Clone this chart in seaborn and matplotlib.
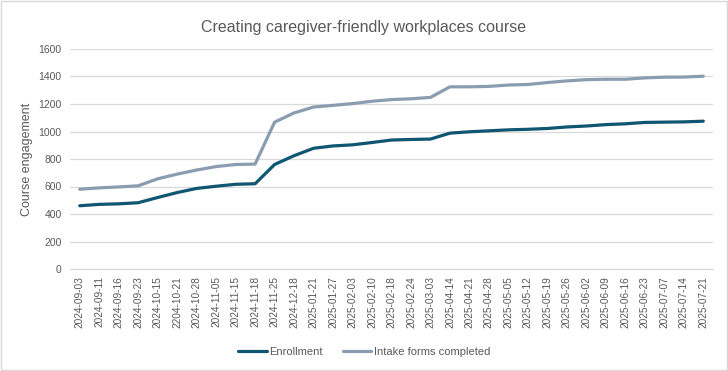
import matplotlib
matplotlib.use("Agg")
import matplotlib.pyplot as plt
import seaborn as sns
import pandas as pd

# tick labels, as printed on the chart (including the 2204 typo)
dates = [
    "2024-09-03", "2024-09-11", "2024-09-16", "2024-09-23", "2024-10-15",
    "2204-10-21", "2024-10-28", "2024-11-05", "2024-11-15", "2024-11-18",
    "2024-11-25", "2024-12-18", "2025-01-21", "2025-01-27", "2025-02-03",
    "2025-02-10", "2025-02-18", "2025-02-24", "2025-03-03", "2025-04-14",
    "2025-04-21", "2025-04-28", "2025-05-05", "2025-05-12", "2025-05-19",
    "2025-05-26", "2025-06-02", "2025-06-09", "2025-06-16", "2025-06-23",
    "2025-07-07", "2025-07-14", "2025-07-21",
]

enrollment = [
    460, 470, 474, 482, 520, 556, 586, 602, 616, 620,
    760, 824, 878, 895, 903, 920, 938, 942, 945, 988,
    998, 1005, 1012, 1016, 1022, 1033, 1040, 1050, 1056, 1066,
    1068, 1070, 1075,
]

intake = [
    580, 590, 597, 605, 656, 690, 720, 745, 760, 763,
    1068, 1135, 1178, 1190, 1203, 1220, 1232, 1238, 1248, 1325,
    1325, 1328, 1338, 1342, 1356, 1368, 1377, 1380, 1380, 1390,
    1395, 1396, 1402,
]

series_names = ["Enrollment", "Intake forms completed"]
colors = ["#0F5673", "#8A9DB0"]

n = len(dates)
df = pd.DataFrame({
    "pos": list(range(n)) * 2,
    "value": enrollment + intake,
    "series": [series_names[0]] * n + [series_names[1]] * n,
})

sns.set_style("white")
plt.rcParams["font.family"] = ["Liberation Sans", "DejaVu Sans"]
text_grey = "#595959"

fig = plt.figure(figsize=(7.28, 3.71), dpi=100)
ax = fig.add_axes([70 / 728, 1 - 269 / 371, 643 / 728, 220 / 371])

sns.lineplot(data=df, x="pos", y="value", hue="series", palette=colors,
             linewidth=2.3, ax=ax, legend=True)

ax.set_xlim(-0.5, n - 0.5)
ax.set_ylim(0, 1600)
ax.set_yticks(range(0, 1601, 200))
ax.set_xticks(range(n))
ax.set_xticklabels(dates, rotation=90)
ax.tick_params(axis="x", labelsize=7.3, colors=text_grey, length=0, pad=5)
ax.tick_params(axis="y", labelsize=7.5, colors=text_grey, length=0, pad=6)
ax.yaxis.grid(True, color="#D9D9D9", linewidth=0.9)
ax.set_axisbelow(True)
for side in ["top", "right", "left"]:
    ax.spines[side].set_visible(False)
ax.spines["bottom"].set_color("#D9D9D9")

ax.set_xlabel("")
ax.set_ylabel("Course engagement", fontsize=9, color=text_grey, labelpad=4)

fig.suptitle("Creating caregiver-friendly workplaces course", y=0.945,
             fontsize=11.5, color=text_grey)

handles, labels = ax.get_legend_handles_labels()
ax.get_legend().remove()
fig.legend(handles, labels, loc="center", bbox_to_anchor=(0.5, 1 - 352 / 371),
           ncol=2, frameon=False, fontsize=8, labelcolor=text_grey,
           handlelength=2.6, handletextpad=0.2, columnspacing=1.8)

# light border around the whole chart
fig.patches.append(plt.Rectangle((0.002, 0.003), 0.996, 0.994, transform=fig.transFigure,
                                 fill=False, edgecolor="#D9D9D9", linewidth=1))

fig.savefig("out.png", dpi=100)
